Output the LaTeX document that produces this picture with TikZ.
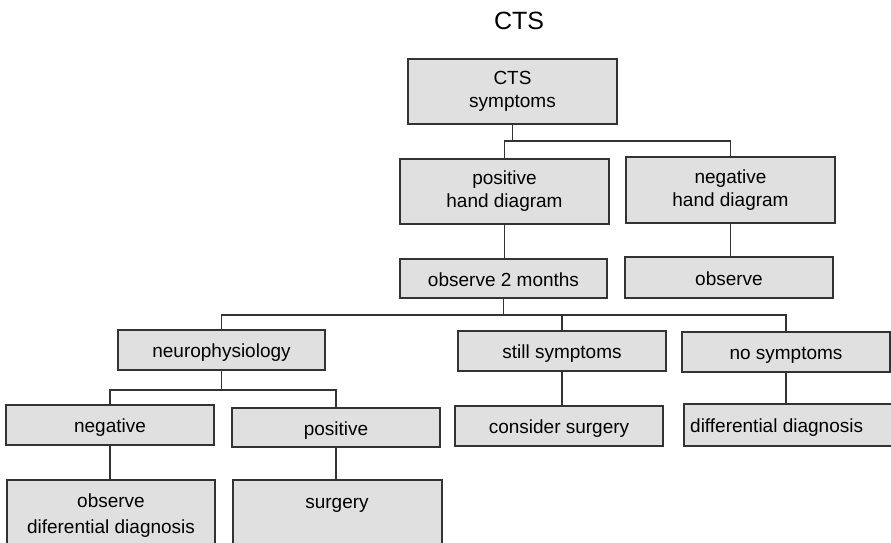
\documentclass[tikz,border=0pt]{standalone}
\usepackage{fontspec}
\setmainfont{Liberation Sans}
\definecolor{boxgray}{gray}{0.88}
\definecolor{linegray}{gray}{0.2}
\begin{document}
\begin{tikzpicture}[x=1pt,y=-1pt,
  box/.style={draw=linegray, fill=boxgray, line width=1.3pt, inner sep=0pt, align=center, font=\fontsize{19}{23}\selectfont},
  sbox/.style={box, text height=15pt, text depth=0pt},
  conn/.style={draw=linegray, line width=1.3pt},
  lbl/.style={inner sep=0pt, font=\fontsize{19}{22}\selectfont},
  ttl/.style={inner sep=0pt, font=\fontsize{25}{30}\selectfont}]
\useasboundingbox (0,0) rectangle (891,543);
\clip (0,0) rectangle (891,543);

\node[ttl, anchor=base] (T) at (519,30) {CTS};

\node[box, minimum width=209pt, minimum height=65pt] (A) at (512.5,91.5) {CTS\\symptoms};
\node[box, minimum width=209pt, minimum height=65pt] (B) at (504.5,191.5) {positive\\hand diagram};
\node[box, minimum width=209pt, minimum height=66pt] (C) at (730.5,190) {negative\\hand diagram};
\node[sbox, minimum width=207pt, minimum height=39pt] (D) at (503.5,278.5) {observe 2 months};
\node[sbox, minimum width=208pt, minimum height=41pt] (E) at (729,277.5) {observe};
\node[sbox, minimum width=207pt, minimum height=40pt] (F) at (221.5,350) {neurophysiology};
\node[sbox, minimum width=208pt, minimum height=40pt] (G) at (562,351) {still symptoms};
\node[sbox, minimum width=208pt, minimum height=40pt] (H) at (786,352) {no symptoms};
\node[sbox, minimum width=208pt, minimum height=40pt] (I) at (110,425) {negative};
\node[sbox, minimum width=208pt, minimum height=39pt] (J) at (336,427.5) {positive};
\node[sbox, minimum width=208pt, minimum height=40pt] (K) at (559,426) {consider surgery};
\node[box, minimum width=208pt, minimum height=42pt] (L) at (788,425) {};
\node[box, minimum width=208pt, minimum height=80pt] (M) at (111,520) {};
\node[box, minimum width=209pt, minimum height=80pt] (N) at (337.5,520) {};

\node[lbl, anchor=base west] (Lt) at (690,432) {differential diagnosis};
\node[lbl, anchor=base] (Mt1) at (111,507) {observe};
\node[lbl, anchor=base] (Mt2) at (111,533) {diferential diagnosis};
\node[lbl, anchor=base] (Nt) at (337,508) {surgery};

\coordinate (j1) at (511,141);
\coordinate (j2) at (504,315);
\coordinate (j3) at (223,390);

\draw[conn] (A.south) -- (A.south |- j1);
\draw[conn] (B.north) |- (j1) -| (C.north);
\draw[conn] (B.south) -- (B.south |- D.north);
\draw[conn] (C.south) -- (C.south |- E.north);
\draw[conn] (D.south) -- (D.south |- j2);
\draw[conn] (F.north) |- (j2) -| (H.north);
\draw[conn] (G.north) -- (G.north |- j2);
\draw[conn] (F.south) -- (F.south |- j3);
\draw[conn] (I.north) |- (j3) -| (J.north);
\draw[conn] (I.south) -- (I.south |- M.north);
\draw[conn] (J.south) -- (J.south |- N.north);
\draw[conn] (G.south) -- (G.south |- K.north);
\draw[conn] (H.south) -- (H.south |- L.north);
\end{tikzpicture}
\end{document}
